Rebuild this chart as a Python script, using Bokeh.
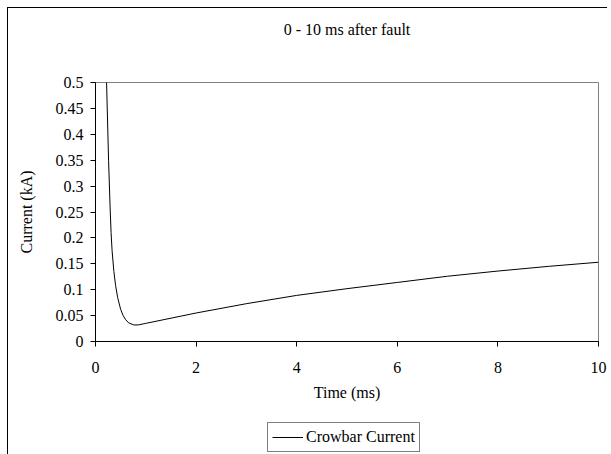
from bokeh.plotting import figure
from bokeh.models import Legend, LegendItem, FixedTicker, Range1d, Title
from bokeh.layouts import column
from bokeh.embed import file_html
from bokeh.resources import INLINE

# Data
time_ms = [0.20, 0.22, 0.26, 0.29, 0.31, 0.33, 0.365, 0.40, 0.44, 0.50, 0.55, 0.60, 0.66,
           0.76, 0.85, 1.0, 1.4, 2.0, 3.0, 4.0, 5.0, 6.0, 7.0, 8.0, 9.0, 10.0]
current_ka = [0.60, 0.50, 0.35, 0.26, 0.21, 0.175, 0.135, 0.108, 0.085, 0.062, 0.050, 0.042, 0.036,
              0.032, 0.032, 0.035, 0.043, 0.055, 0.073, 0.089, 0.102, 0.114, 0.126, 0.136, 0.145, 0.153]

x_ticks = [0, 2, 4, 6, 8, 10]
y_ticks = [0, 0.05, 0.1, 0.15, 0.2, 0.25, 0.3, 0.35, 0.4, 0.45, 0.5]
y_tick_labels = ["0", "0.05", "0.1", "0.15", "0.2", "0.25", "0.3", "0.35", "0.4", "0.45", "0.5"]

title_text = "0 - 10 ms after fault"
x_label = "Time (ms)"
y_label = "Current (kA)"
series_name = "Crowbar Current"

FONT = "Liberation Serif"
FS = "16px"

p = figure(width=600, height=408, output_backend="svg", toolbar_location=None,
           x_range=Range1d(0, 10), y_range=Range1d(0, 0.5),
           min_border_left=87, min_border_right=10, min_border_top=74, min_border_bottom=75)
p.styles = {"border-left": "1px solid black", "border-top": "1px solid black",
            "box-sizing": "border-box"}

# spacer between frame and title (nearest to the frame)
p.add_layout(Title(text=" ", text_font=FONT, text_font_size=FS, standoff=21), "above")

p.title.text = title_text
p.title.text_font = FONT
p.title.text_font_size = FS
p.title.text_font_style = "normal"
p.title.text_color = "black"
p.title.align = "center"
p.title.vertical_align = "bottom"
p.title.standoff = 10

p.background_fill_color = "white"
p.border_fill_color = "white"
p.outline_line_color = "#808080"
p.outline_line_width = 1
p.xgrid.visible = False
p.ygrid.visible = False

for ax in (p.xaxis[0], p.yaxis[0]):
    ax.axis_line_color = "black"
    ax.major_tick_line_color = "black"
    ax.major_tick_out = 5
    ax.major_tick_in = 0
    ax.minor_tick_line_color = None
    ax.major_label_text_font = FONT
    ax.major_label_text_font_size = FS
    ax.major_label_text_color = "black"
    ax.axis_label_text_font = FONT
    ax.axis_label_text_font_size = FS
    ax.axis_label_text_font_style = "normal"
    ax.axis_label_text_color = "black"

p.xaxis.ticker = FixedTicker(ticks=x_ticks)
p.yaxis.ticker = FixedTicker(ticks=y_ticks)
p.yaxis.major_label_overrides = {t: l for t, l in zip(y_ticks, y_tick_labels)}
p.xaxis.axis_label = x_label
p.yaxis.axis_label = y_label
p.xaxis.major_label_standoff = 15
p.xaxis.axis_label_standoff = 8
p.yaxis.major_label_standoff = 7
p.yaxis.axis_label_standoff = 18

p.line(time_ms, current_ka, line_color="black", line_width=1)

# Legend strip below the chart (the series is drawn out of view; only its key shows)
pl = figure(width=600, height=39, output_backend="svg", toolbar_location=None,
            x_range=Range1d(0, 10), y_range=Range1d(5, 6),
            x_axis_type=None, y_axis_type=None, min_border=0)
pl.styles = {"border-left": "1px solid black", "box-sizing": "border-box"}
pl.outline_line_color = None
pl.background_fill_color = "white"
pl.border_fill_color = "white"
key = pl.line(time_ms, current_ka, line_color="black", line_width=1)

legend = Legend(items=[LegendItem(label=series_name, renderers=[key])],
                location=(172, 2), orientation="vertical")
legend.label_text_font = FONT
legend.label_text_font_size = FS
legend.label_text_color = "black"
legend.border_line_color = "black"
legend.border_line_width = 1
legend.background_fill_color = "white"
legend.background_fill_alpha = 1
legend.padding = 4
legend.margin = 0
legend.glyph_width = 31
legend.label_standoff = 3
legend.spacing = 0
pl.add_layout(legend, "center")

layout = column(p, pl, spacing=0)
layout.styles = {"margin-left": "7px", "margin-top": "7px"}

open("out.html", "w").write(file_html(layout, INLINE))
